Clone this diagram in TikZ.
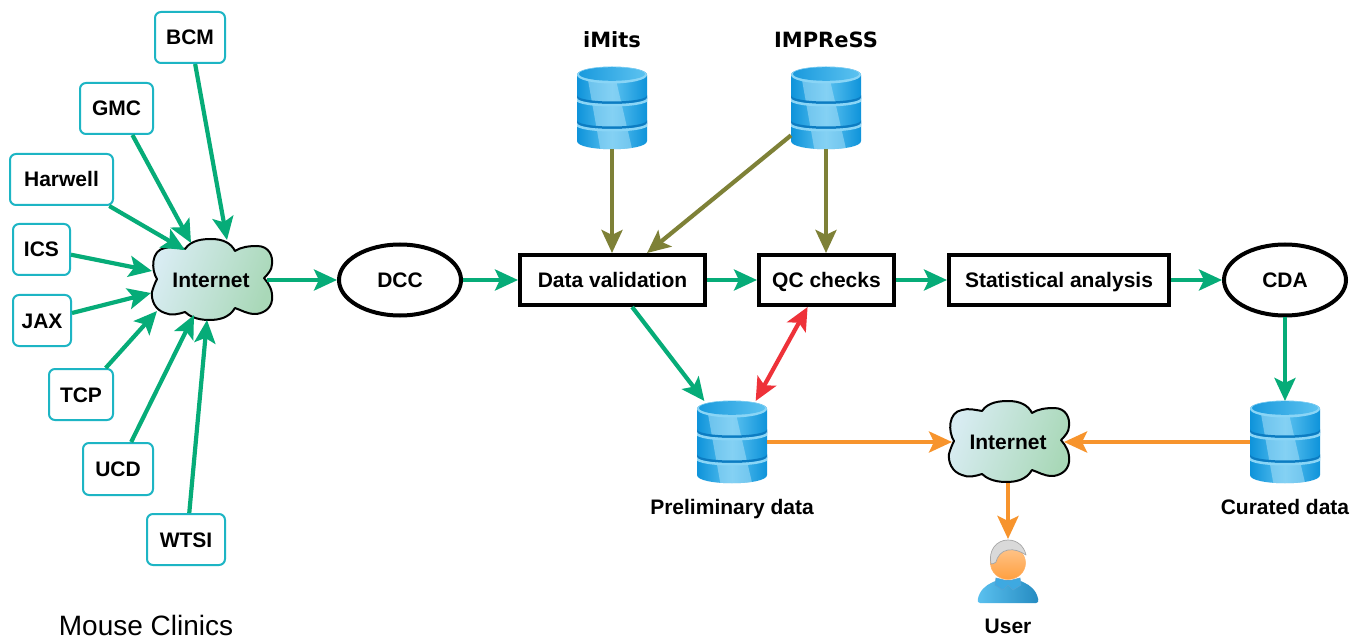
\documentclass[tikz,border=0pt]{standalone}
\usepackage{fontspec}
\setmainfont{Liberation Sans}
\newfontfamily\dvfont{DejaVu Sans}
\usetikzlibrary{arrows.meta,calc,shapes.geometric}
\definecolor{gr}{HTML}{06AC78}
\definecolor{tealb}{HTML}{1DB5C4}
\definecolor{olv}{HTML}{7E8137}
\definecolor{redc}{HTML}{EE3239}
\definecolor{org}{HTML}{F7942D}
\definecolor{clA}{HTML}{D8ECF2}
\definecolor{clB}{HTML}{A9D8B8}
\definecolor{dbA}{HTML}{0E93DA}
\definecolor{dbB}{HTML}{5CC2F0}
\definecolor{dbP}{HTML}{A5DEF8}
\definecolor{dbD}{HTML}{0C7CC2}
\definecolor{dbL}{HTML}{8AD5F6}
\tikzset{
  >={Stealth[length=23pt,width=21pt,inset=5pt]},
  conn/.style={line width=4.2pt,->},
  clinic/.style={draw=tealb,line width=2pt,rounded corners=6pt,fill=white,inner sep=0pt,outer sep=1pt,
    font=\fontsize{21}{24}\selectfont\bfseries,text height=15pt,text depth=0pt},
  stepbox/.style={draw=black,line width=4pt,fill=white,inner sep=0pt,outer sep=2pt,minimum height=50pt,
    font=\fontsize{21}{24}\selectfont\bfseries,text height=15pt,text depth=0pt},
  oval/.style={ellipse,draw=black,line width=4pt,fill=white,inner sep=0pt,outer sep=2pt,minimum width=122pt,minimum height=71pt,
    font=\fontsize{21}{24}\selectfont\bfseries,text height=15pt,text depth=0pt},
  inetnode/.style={inner sep=0pt,outer sep=0pt,minimum width=112pt,minimum height=82pt,
    font=\fontsize{21}{24}\selectfont\bfseries,text height=15pt,text depth=0pt},
  dbnode/.style={inner sep=0pt,outer sep=0pt,minimum width=70pt,minimum height=82pt},
  lab/.style={font=\fontsize{21}{24}\selectfont\bfseries,inner sep=0pt,anchor=base},
  dvlab/.style={font=\fontsize{21}{24}\selectfont\dvfont\bfseries,inner sep=0pt,anchor=base},
}
\newcommand{\cloudshape}[2]{%
  \begin{scope}[shift={(#1,#2)}]
  \path[draw=black,line width=2pt,line join=round,left color=clA,right color=clB,shading angle=70]
    (-54,-1) .. controls (-60,-10) and (-60,-30) .. (-46,-32)
    .. controls (-40,-34) and (-32,-32) .. (-26,-31)
    .. controls (-20,-40) and (-8,-41) .. (0,-41)
    .. controls (12,-41) and (20,-37) .. (24,-29)
    .. controls (30,-33) and (38,-34) .. (46,-34)
    .. controls (58,-34) and (62,-24) .. (61,-16)
    .. controls (61,-10) and (57,-6) .. (53,-2)
    .. controls (58,4) and (62,10) .. (61,20)
    .. controls (60,30) and (50,34) .. (44,34)
    .. controls (36,34) and (30,30) .. (24,28)
    .. controls (18,38) and (8,40) .. (-2,40)
    .. controls (-14,40) and (-22,36) .. (-26,32)
    .. controls (-32,34) and (-40,36) .. (-46,33)
    .. controls (-56,30) and (-60,20) .. (-59,12)
    .. controls (-58,8) and (-56,3) .. (-54,-1) -- cycle;
  \end{scope}}
\newcommand{\dbicon}[2]{%
  \begin{scope}[shift={(#1,#2)}]
  \path[left color=dbA,right color=dbA,middle color=dbB]
    (-35,-33) -- (-35,33) .. controls (-35,44) and (35,44) .. (35,33) -- (35,-33)
    .. controls (35,-44) and (-35,-44) .. (-35,-33) -- cycle;
  \begin{scope}
    \clip (-35,-33) -- (-35,33) .. controls (-35,44) and (35,44) .. (35,33) -- (35,-33)
    .. controls (35,-44) and (-35,-44) .. (-35,-33) -- cycle;
    \fill[dbP,opacity=.55] (-24,-28) -- (-11,45) -- (21,45) -- (4,-28) -- cycle;
    \draw[dbD,line width=2.5pt] (-36,-12) .. controls (-36,-3) and (36,-3) .. (36,-12);
    \draw[dbL,line width=2.5pt] (-36,-9.5) .. controls (-36,-0.5) and (36,-0.5) .. (36,-9.5);
    \draw[dbD,line width=2.5pt] (-36,13) .. controls (-36,22) and (36,22) .. (36,13);
    \draw[dbL,line width=2.5pt] (-36,15.5) .. controls (-36,24.5) and (36,24.5) .. (36,15.5);
  \end{scope}
  \fill[dbL] (0,-33) ellipse [x radius=35,y radius=8.5];
  \path[left color=dbA!85!dbB,right color=dbB] (0,-34) ellipse [x radius=33,y radius=6.8];
  \end{scope}}
\newcommand{\personicon}[2]{%
  \begin{scope}[shift={(#1,#2)}]
  \path[left color=dbB,right color=dbA!85!black!90,line join=round]
    (-28,32) .. controls (-32,32) and (-30,26) .. (-28,22) .. controls (-24,15) and (-18,12) .. (-10,9)
    -- (10,9) .. controls (18,12) and (24,15) .. (28,22) .. controls (30,26) and (32,32) .. (28,32) -- cycle;
  \path[fill=dbA!80,draw=dbD!70,line width=.6pt] (-12,7) -- (-13,14) -- (-5,19) -- (0,14) -- (5,19) -- (13,14) -- (12,7) -- (0,10) -- cycle;
  \path[top color=orange!45!white,bottom color=orange!75!white,draw=orange!60,line width=.5pt] (0,-8) ellipse [x radius=17.5,y radius=16.5];
  \path[fill=black!15,draw=black!35,line width=.7pt,line join=round]
    (-17,-7) .. controls (-20,-20) and (-12,-31) .. (0,-31) .. controls (9,-31) and (16,-25) .. (18,-16)
    .. controls (12,-20) and (6,-22) .. (0,-21) .. controls (-7,-20) and (-11,-14) .. (-12,-9)
    .. controls (-13,-8) and (-15,-7) .. (-17,-7) -- cycle;
  \end{scope}}
\begin{document}
\begin{tikzpicture}[x=1pt,y=-1pt]
\useasboundingbox (0,0) rectangle (1360,636);
\clip (0,0) rectangle (1360,636);
\fill[white] (0,0) rectangle (1360,636);
% icons
\cloudshape{211}{280}
\cloudshape{1008}{442}
\dbicon{612}{108}
\dbicon{826}{108}
\dbicon{732}{442}
\dbicon{1285}{442}
\personicon{1008}{571}
% clinics
\node[clinic,minimum width=70pt,minimum height=51pt] (bcm) at (190,37.5) {BCM};
\node[clinic,minimum width=73pt,minimum height=51pt] (gmc) at (116.5,108.5) {GMC};
\node[clinic,minimum width=103pt,minimum height=51pt] (harwell) at (61.5,179.5) {Harwell};
\node[clinic,minimum width=57pt,minimum height=51pt] (ics) at (41.5,249.5) {ICS};
\node[clinic,minimum width=58pt,minimum height=51pt] (jax) at (42,320.5) {JAX};
\node[clinic,minimum width=64pt,minimum height=51pt] (tcp) at (81,394.5) {TCP};
\node[clinic,minimum width=70pt,minimum height=52pt] (ucd) at (118,469) {UCD};
\node[clinic,minimum width=78pt,minimum height=51pt] (wtsi) at (186,539.5) {WTSI};
% main flow
\node[inetnode] (inet1) at (211,280) {Internet};
\node[inetnode] (inet2) at (1008,442) {Internet};
\node[oval] (dcc) at (400,280) {DCC};
\node[oval] (cda) at (1285,280) {CDA};
\node[stepbox,minimum width=185pt] (dv) at (612.5,280) {Data validation};
\node[stepbox,minimum width=135pt] (qc) at (826.5,280) {QC checks};
\node[stepbox,minimum width=220pt] (stat) at (1059,280) {Statistical analysis};
\node[dbnode] (imits) at (612,108) {};
\node[dbnode] (impress) at (826,108) {};
\node[dbnode] (prelim) at (732,442) {};
\node[dbnode] (curated) at (1285,442) {};
\node[inner sep=0pt,outer sep=0pt,minimum width=60pt,minimum height=64pt] (user) at (1008,571) {};
% labels
\node[dvlab] (limits) at (612,48) {iMits};
\node[dvlab] (limpress) at (826,48) {IMPReSS};
\node[lab] (lprelim) at (732,514) {Preliminary data};
\node[lab] (lcurated) at (1285,514) {Curated data};
\node[lab] (luser) at (1008,633) {User};
\node[inner sep=0pt,anchor=base,font=\fontsize{28}{30}\selectfont] (lmouse) at (146,635.5) {Mouse Clinics};
% connectors
\begin{scope}[every path/.append style={conn,draw=gr}]
\draw (bcm.-79.3) -- ($(inet1)+(16,-40)$);
\draw (gmc.-59.7) -- ($(inet1)+(-20,-37)$);
\draw (harwell.-29.7) -- ($(inet1)+(-26,-30)$);
\draw (ics.-10.6) -- ($(inet1)+(-59,-9)$);
\draw (jax.14) -- ($(inet1)+(-60,13)$);
\draw (tcp.47.8) -- ($(inet1)+(-54,31)$);
\draw (ucd.64.3) -- ($(inet1)+(-17,35)$);
\draw (wtsi.83.5) -- ($(inet1)+(-4,40)$);
\draw (inet1.east) -- (dcc.west);
\draw (dcc.east) -- (dv.west);
\draw (dv.east) -- (qc.west);
\draw (qc.east) -- (stat.west);
\draw (stat.east) -- (cda.west);
\draw (cda.south) -- (curated.north);
\draw (dv.-54.2) -- (prelim.124.3);
\end{scope}
\draw[conn,draw=redc,<->] (qc.-125.8) -- (prelim.60);
\begin{scope}[every path/.append style={conn,draw=olv}]
\draw (imits.south) -- (imits.south |- dv.north);
\draw (impress.-142.4) -- (dv.38.9);
\draw (impress.south) -- (impress.south |- qc.north);
\end{scope}
\begin{scope}[every path/.append style={conn,draw=org}]
\draw (prelim.east) -- (inet2.west);
\draw (curated.west) -- (inet2.east);
\draw (inet2.south) -- (user.north);
\end{scope}
\end{tikzpicture}
\end{document}
